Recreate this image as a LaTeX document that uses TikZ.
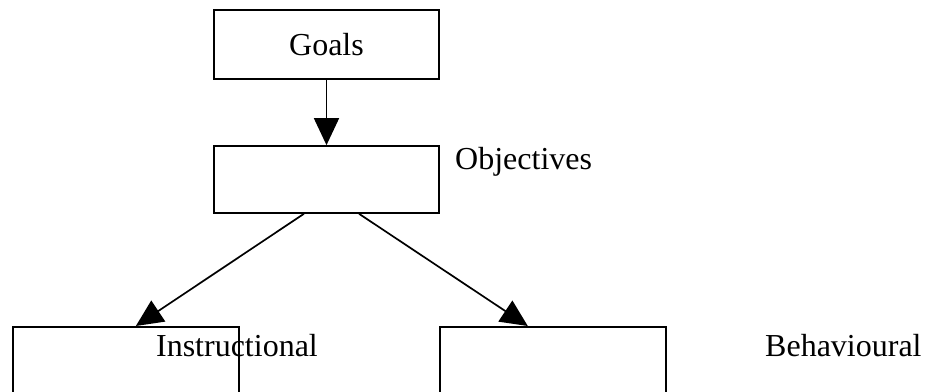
\documentclass[tikz,border=0pt]{standalone}
\usepackage{fontspec}
\setmainfont{Liberation Serif}
\usetikzlibrary{arrows.meta,calc}
\begin{document}
\begin{tikzpicture}[x=1pt,y=-1pt,
  box/.style={draw,line width=1.7pt,minimum width=225pt,inner sep=0pt,font=\fontsize{32}{38}\selectfont},
  lbl/.style={inner sep=0pt,font=\fontsize{32}{38}\selectfont},
  conn/.style={line width=1.7pt,-{Triangle[length=27pt,width=25pt]}}]
\useasboundingbox (0,0) rectangle (926,391);
\clip (0,0) rectangle (926,391);
\node[box,minimum height=69pt] (goals) at (326.5,44.5) {Goals};
\node[box,minimum height=67pt] (obj) at (326.5,179.5) {};
\node[lbl,anchor=west] (objl) at (455,162) {Objectives};
\node[box,minimum width=226pt,minimum height=110pt,anchor=north west] (inst) at (12,326) {};
\node[box,minimum width=226pt,minimum height=110pt,anchor=north west] (beh) at (439,326) {};
\node[lbl] (instl) at (237,346) {Instructional};
\node[lbl,anchor=west] (behl) at (765,346) {Behavioural};
\draw[conn] (goals.south) -- (obj.north);
\draw[conn] ($(obj.south west)!0.4!(obj.south east)$) -- ($(inst.north west)!0.544!(inst.north east)$);
\draw[conn] ($(obj.south west)!0.644!(obj.south east)$) -- ($(beh.north west)!0.39!(beh.north east)$);
\end{tikzpicture}
\end{document}
